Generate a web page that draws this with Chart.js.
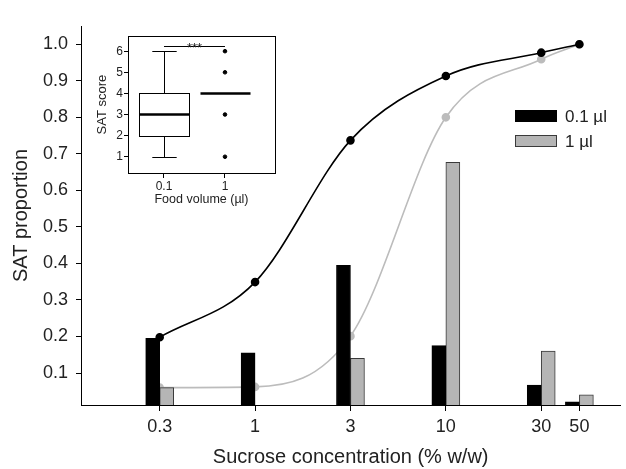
<!DOCTYPE html>
<html>
<head>
<meta charset="utf-8">
<script src="https://cdn.jsdelivr.net/npm/chart.js@4.4.0/dist/chart.umd.min.js"></script>
<style>
  html, body { margin: 0; padding: 0; background: #fff; }
  #wrap { position: relative; width: 626px; height: 469px; }
  #main { position: absolute; left: 0; top: 0; }
  #inset { position: absolute; left: 85px; top: 28px; }
</style>
</head>
<body>
<div id="wrap">
  <canvas id="main" width="626" height="469"></canvas>
  <canvas id="inset" width="200" height="180"></canvas>
</div>
<script>
// main chart data
const concLabels = ['0.3', '1', '3', '10', '30', '50'];
const concAxisPos = [0, 1, 2, 3, 4, 4.4];
const yTickValues = [0.1, 0.2, 0.3, 0.4, 0.5, 0.6, 0.7, 0.8, 0.9, 1.0];
const volumeLabels = ['0.1 \u00b5l', '1 \u00b5l'];
const barSmall = [0.195, 0.155, 0.395, 0.175, 0.067, 0.021];
const barLarge = [0.06, null, 0.14, 0.677, 0.16, 0.04];
const fitSmall = [0.198, 0.349, 0.737, 0.913, 0.977, 1.0];
const fitLarge = [0.06, 0.062, 0.201, 0.8, 0.959, 1.0];

// inset data
const boxGroupLabels = ['0.1', '1'];
const boxGroupPos = [1, 2];
const boxMin = [1, 4];
const boxQ1 = [2, 4];
const boxMedian = [3, 4];
const boxQ3 = [4, 4];
const boxMax = [6, 4];
const outlierX = [2, 2, 2, 2];
const outlierY = [1, 3, 5, 6];
const insetYTicks = [1, 2, 3, 4, 5, 6];
const sigLevel = 6.24;
const sigText = '***';

const FONT = "'Liberation Sans', Arial, sans-serif";
Chart.defaults.font.family = FONT;
Chart.defaults.color = '#222';

const BLACK = '#000';
const GREY = '#b5b5b5';
const GREY_LINE = '#bcbcbc';

const toPoints = (ys) => concAxisPos.map((x, i) => ({ x: x, y: ys[i] }));

const barLegend = {
  id: 'barLegend',
  afterDraw(chart, args, opts) {
    const ctx = chart.ctx;
    const bars = chart.data.datasets.filter((d) => d.type !== 'line');
    ctx.save();
    bars.forEach((ds, i) => {
      const y = opts.y + i * opts.gap;
      ctx.fillStyle = ds.backgroundColor;
      ctx.fillRect(opts.x, y, opts.boxW, opts.boxH);
      ctx.strokeStyle = ds.borderColor;
      ctx.lineWidth = 1;
      ctx.strokeRect(opts.x + 0.5, y + 0.5, opts.boxW - 1, opts.boxH - 1);
      ctx.fillStyle = '#222';
      ctx.font = opts.size + 'px ' + FONT;
      ctx.textBaseline = 'middle';
      ctx.fillText(ds.label, opts.x + opts.boxW + 8, y + opts.boxH / 2 + 1);
    });
    ctx.restore();
  }
};

new Chart(document.getElementById('main'), {
  type: 'bar',
  data: {
    datasets: [
      {
        type: 'line',
        label: 'fit small',
        data: toPoints(fitSmall),
        borderColor: BLACK,
        backgroundColor: BLACK,
        pointBorderColor: BLACK,
        borderWidth: 1.6,
        pointRadius: 3.5,
        cubicInterpolationMode: 'monotone',
        order: 2
      },
      {
        type: 'line',
        label: 'fit large',
        data: toPoints(fitLarge),
        borderColor: GREY_LINE,
        backgroundColor: GREY_LINE,
        pointBorderColor: GREY_LINE,
        borderWidth: 1.6,
        pointRadius: 3.5,
        cubicInterpolationMode: 'monotone',
        order: 3
      },
      {
        label: volumeLabels[0],
        data: toPoints(barSmall),
        backgroundColor: BLACK,
        borderColor: BLACK,
        borderWidth: 1,
        barThickness: 14,
        order: 1
      },
      {
        label: volumeLabels[1],
        data: toPoints(barLarge),
        backgroundColor: GREY,
        borderColor: '#3a3a3a',
        borderWidth: 1,
        barThickness: 14,
        order: 1
      }
    ]
  },
  options: {
    responsive: false,
    animation: false,
    layout: { padding: { top: 26, right: 0, left: 0, bottom: 0 } },
    plugins: {
      legend: { display: false },
      tooltip: { enabled: false },
      barLegend: { x: 515, y: 110, gap: 25, boxW: 42, boxH: 12, size: 17 }
    },
    scales: {
      x: {
        type: 'linear',
        min: -0.825,
        max: 4.83,
        offset: false,
        afterBuildTicks: (s) => { s.ticks = concAxisPos.map((v) => ({ value: v })); },
        afterFit: (s) => { s.height = 64; },
        ticks: {
          callback: (v, i) => concLabels[i],
          font: { size: 18 },
          padding: 5,
          maxRotation: 0,
          autoSkip: false,
          color: '#222'
        },
        grid: { display: true, offset: false, drawOnChartArea: false, tickLength: 6, color: BLACK },
        border: { color: BLACK, width: 1 },
        title: {
          display: true,
          text: 'Sucrose concentration (% w/w)',
          font: { size: 20 },
          color: '#222',
          padding: { top: 0, bottom: 0 }
        }
      },
      y: {
        min: 0.0125,
        max: 1.05,
        afterBuildTicks: (s) => { s.ticks = yTickValues.map((v) => ({ value: v })); },
        afterFit: (s) => { s.width = 81; },
        ticks: {
          callback: (v) => v.toFixed(1),
          font: { size: 18 },
          padding: 8,
          color: '#222'
        },
        grid: { drawOnChartArea: false, tickLength: 5, color: BLACK },
        border: { color: BLACK, width: 1 },
        title: {
          display: true,
          text: 'SAT proportion',
          font: { size: 20 },
          color: '#222',
          padding: { top: 9, bottom: 0 }
        }
      }
    }
  },
  plugins: [barLegend]
});

// inset boxplot
const boxplotDraw = {
  id: 'boxplotDraw',
  afterDatasetsDraw(chart, args, opts) {
    const { ctx, chartArea } = chart;
    const xs = chart.scales.x;
    const ys = chart.scales.y;
    const line = (x1, y1, x2, y2) => {
      ctx.beginPath();
      ctx.moveTo(x1, y1);
      ctx.lineTo(x2, y2);
      ctx.stroke();
    };
    ctx.save();
    ctx.strokeStyle = '#000';
    boxGroupPos.forEach((g, i) => {
      const cx = Math.round(xs.getPixelForValue(g)) + 0.5;
      const halfW = xs.getPixelForValue(g + opts.boxWidth / 2) - xs.getPixelForValue(g);
      const capHalf = xs.getPixelForValue(g + opts.capWidth / 2) - xs.getPixelForValue(g);
      const yMin = Math.round(ys.getPixelForValue(boxMin[i])) + 0.5;
      const yQ1 = Math.round(ys.getPixelForValue(boxQ1[i])) + 0.5;
      const yMed = ys.getPixelForValue(boxMedian[i]);
      const yQ3 = Math.round(ys.getPixelForValue(boxQ3[i])) + 0.5;
      const yMax = Math.round(ys.getPixelForValue(boxMax[i])) + 0.5;
      ctx.lineWidth = 1;
      if (boxMin[i] < boxQ1[i]) {
        line(cx, yQ1, cx, yMin);
        line(cx - capHalf, yMin, cx + capHalf, yMin);
      }
      if (boxMax[i] > boxQ3[i]) {
        line(cx, yQ3, cx, yMax);
        line(cx - capHalf, yMax, cx + capHalf, yMax);
      }
      if (boxQ3[i] > boxQ1[i]) {
        ctx.strokeRect(Math.round(cx - halfW) + 0.5, yQ3, Math.round(2 * halfW), yQ1 - yQ3);
      }
      ctx.lineWidth = 2.5;
      line(cx - halfW, yMed, cx + halfW, yMed);
    });
    // frame
    ctx.lineWidth = 1;
    ctx.strokeRect(Math.round(chartArea.left) + 0.5, Math.round(chartArea.top) + 0.5,
      Math.round(chartArea.right - chartArea.left), Math.round(chartArea.bottom - chartArea.top));
    // significance bracket
    const sy = Math.round(ys.getPixelForValue(sigLevel)) + 0.5;
    const sx1 = xs.getPixelForValue(boxGroupPos[0]);
    const sx2 = xs.getPixelForValue(boxGroupPos[1]);
    line(sx1, sy, sx2, sy);
    ctx.fillStyle = '#222';
    ctx.font = '13px ' + FONT;
    ctx.textAlign = 'center';
    ctx.textBaseline = 'alphabetic';
    ctx.fillText(sigText, (sx1 + sx2) / 2, sy + 5);
    ctx.restore();
  }
};

new Chart(document.getElementById('inset'), {
  type: 'scatter',
  data: {
    datasets: [{
      label: 'outliers',
      data: outlierX.map((x, i) => ({ x: x, y: outlierY[i] })),
      backgroundColor: '#000',
      borderColor: '#000',
      pointRadius: 1.8
    }]
  },
  options: {
    responsive: false,
    animation: false,
    layout: { padding: { top: 8, right: 10, left: 0, bottom: 0 } },
    plugins: {
      legend: { display: false },
      tooltip: { enabled: false },
      boxplotDraw: { boxWidth: 0.82, capWidth: 0.4 }
    },
    scales: {
      x: {
        type: 'linear',
        min: 0.41,
        max: 2.82,
        afterBuildTicks: (s) => { s.ticks = boxGroupPos.map((v) => ({ value: v })); },
        afterFit: (s) => { s.height = 35; },
        ticks: { callback: (v, i) => boxGroupLabels[i], font: { size: 12 }, padding: 1, maxRotation: 0, color: '#222' },
        grid: { drawOnChartArea: false, tickLength: 5, color: '#000' },
        border: { display: false },
        title: { display: true, text: 'Food volume (\u00b5l)', font: { size: 12.5 }, color: '#222', padding: { top: 0, bottom: 0.5 } }
      },
      y: {
        min: 0.23,
        max: 6.71,
        afterBuildTicks: (s) => { s.ticks = insetYTicks.map((v) => ({ value: v })); },
        afterFit: (s) => { s.width = 43; },
        ticks: { font: { size: 12 }, padding: 1, color: '#222' },
        grid: { drawOnChartArea: false, tickLength: 4, color: '#000' },
        border: { display: false },
        title: { display: true, text: 'SAT score', font: { size: 13 }, color: '#222', padding: { top: 10, bottom: 0 } }
      }
    }
  },
  plugins: [boxplotDraw]
});
</script>
</body>
</html>
